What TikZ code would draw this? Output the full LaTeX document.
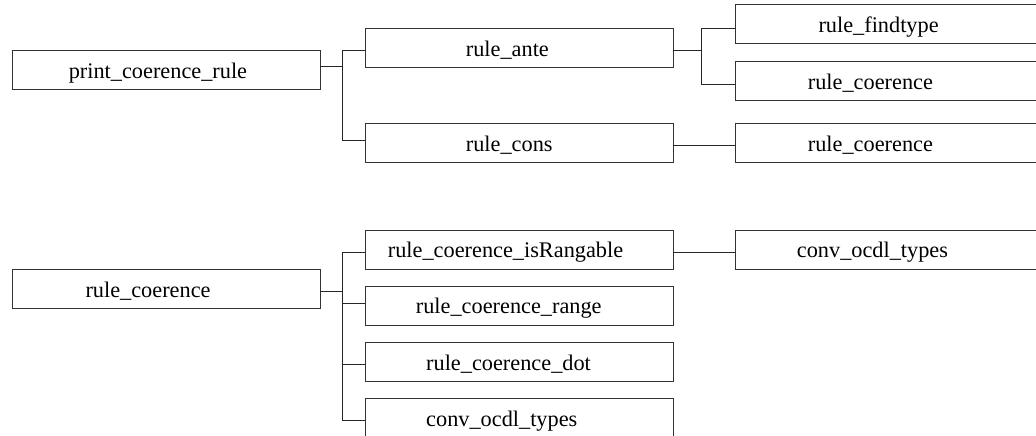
\documentclass[tikz,border=0pt]{standalone}
\usepackage{fontspec}
\setmainfont{Liberation Serif}
\begin{document}
\begin{tikzpicture}[x=1pt,y=-1pt,
  box/.style={draw=black!80,line width=1pt,minimum width=308pt,minimum height=39pt,inner sep=0pt,outer sep=0pt},
  lbl/.style={anchor=base west,inner sep=0pt,font=\fontsize{22.3}{26}\selectfont},
  conn/.style={draw=black!85,line width=1pt}]
\useasboundingbox (0,0) rectangle (1036,436);
\clip (0,0) rectangle (1036,436);
% boxes
\node[box] (p)  at (166,70.3) {};
\node[box] (a)  at (519,47.8) {};
\node[box] (c)  at (519,143.2) {};
\node[box] (ft) at (889,24.5) {};
\node[box] (c1) at (889,81.2) {};
\node[box] (c2) at (889,143.2) {};
\node[box] (rc) at (166,288.8) {};
\node[box] (ir) at (519,249.5) {};
\node[box] (rg) at (519,305.5) {};
\node[box] (dt) at (519,361.8) {};
\node[box] (cv) at (519,417.8) {};
\node[box] (cw) at (889,249.5) {};
% labels
\node[lbl] (pt)  at ([xshift=56.6pt,yshift=-8.3pt]p.west)  {print\_coerence\_rule};
\node[lbl] (at)  at ([xshift=100.7pt,yshift=-8.3pt]a.west) {rule\_ante};
\node[lbl] (ct)  at ([xshift=100.7pt,yshift=-8.3pt]c.west) {rule\_cons};
\node[lbl] (ftt) at ([xshift=83.3pt,yshift=-8.3pt]ft.west) {rule\_findtype};
\node[lbl] (c1t) at ([xshift=72.7pt,yshift=-8.3pt]c1.west) {rule\_coerence};
\node[lbl] (c2t) at ([xshift=72.7pt,yshift=-8.3pt]c2.west) {rule\_coerence};
\node[lbl] (rct) at ([xshift=73.3pt,yshift=-8.3pt]rc.west) {rule\_coerence};
\node[lbl] (irt) at ([xshift=22.7pt,yshift=-8.3pt]ir.west) {rule\_coerence\_isRangable};
\node[lbl] (rgt) at ([xshift=50.7pt,yshift=-8.3pt]rg.west) {rule\_coerence\_range};
\node[lbl] (dtt) at ([xshift=61pt,yshift=-8.3pt]dt.west)   {rule\_coerence\_dot};
\node[lbl] (cvt) at ([xshift=61pt,yshift=-8.3pt]cv.west)   {conv\_ocdl\_types};
\node[lbl] (cwt) at ([xshift=61.7pt,yshift=-8.3pt]cw.west) {conv\_ocdl\_types};
% connectors
\draw[conn] ([yshift=3.6pt]p.east) -| ([xshift=-23pt,yshift=-2.9pt]a.west) -- ([yshift=-2.9pt]a.west);
\draw[conn] ([yshift=3.6pt]p.east) -| ([xshift=-23pt,yshift=3.2pt]c.west) -- ([yshift=3.2pt]c.west);
\draw[conn] ([yshift=-2.9pt]a.east) -| ([xshift=-34pt,yshift=-3.8pt]ft.west) -- ([yshift=-3.8pt]ft.west);
\draw[conn] ([yshift=-2.9pt]a.east) -| ([xshift=-34pt,yshift=-3.1pt]c1.west) -- ([yshift=-3.1pt]c1.west);
\draw[conn] ([yshift=-2.5pt]c.east) -- ([yshift=-2.5pt]c2.west);
\draw[conn] ([yshift=-2.5pt]rc.east) -| ([xshift=-23pt,yshift=-2.8pt]ir.west) -- ([yshift=-2.8pt]ir.west);
\draw[conn] ([yshift=-2.5pt]rc.east) -| ([xshift=-23pt,yshift=2.5pt]rg.west) -- ([yshift=2.5pt]rg.west);
\draw[conn] ([yshift=-2.5pt]rc.east) -| ([xshift=-23pt,yshift=-2.9pt]dt.west) -- ([yshift=-2.9pt]dt.west);
\draw[conn] ([yshift=-2.5pt]rc.east) -| ([xshift=-23pt,yshift=-2.5pt]cv.west) -- ([yshift=-2.5pt]cv.west);
\draw[conn] ([yshift=-2.8pt]ir.east) -- ([yshift=-2.8pt]cw.west);
\end{tikzpicture}
\end{document}
